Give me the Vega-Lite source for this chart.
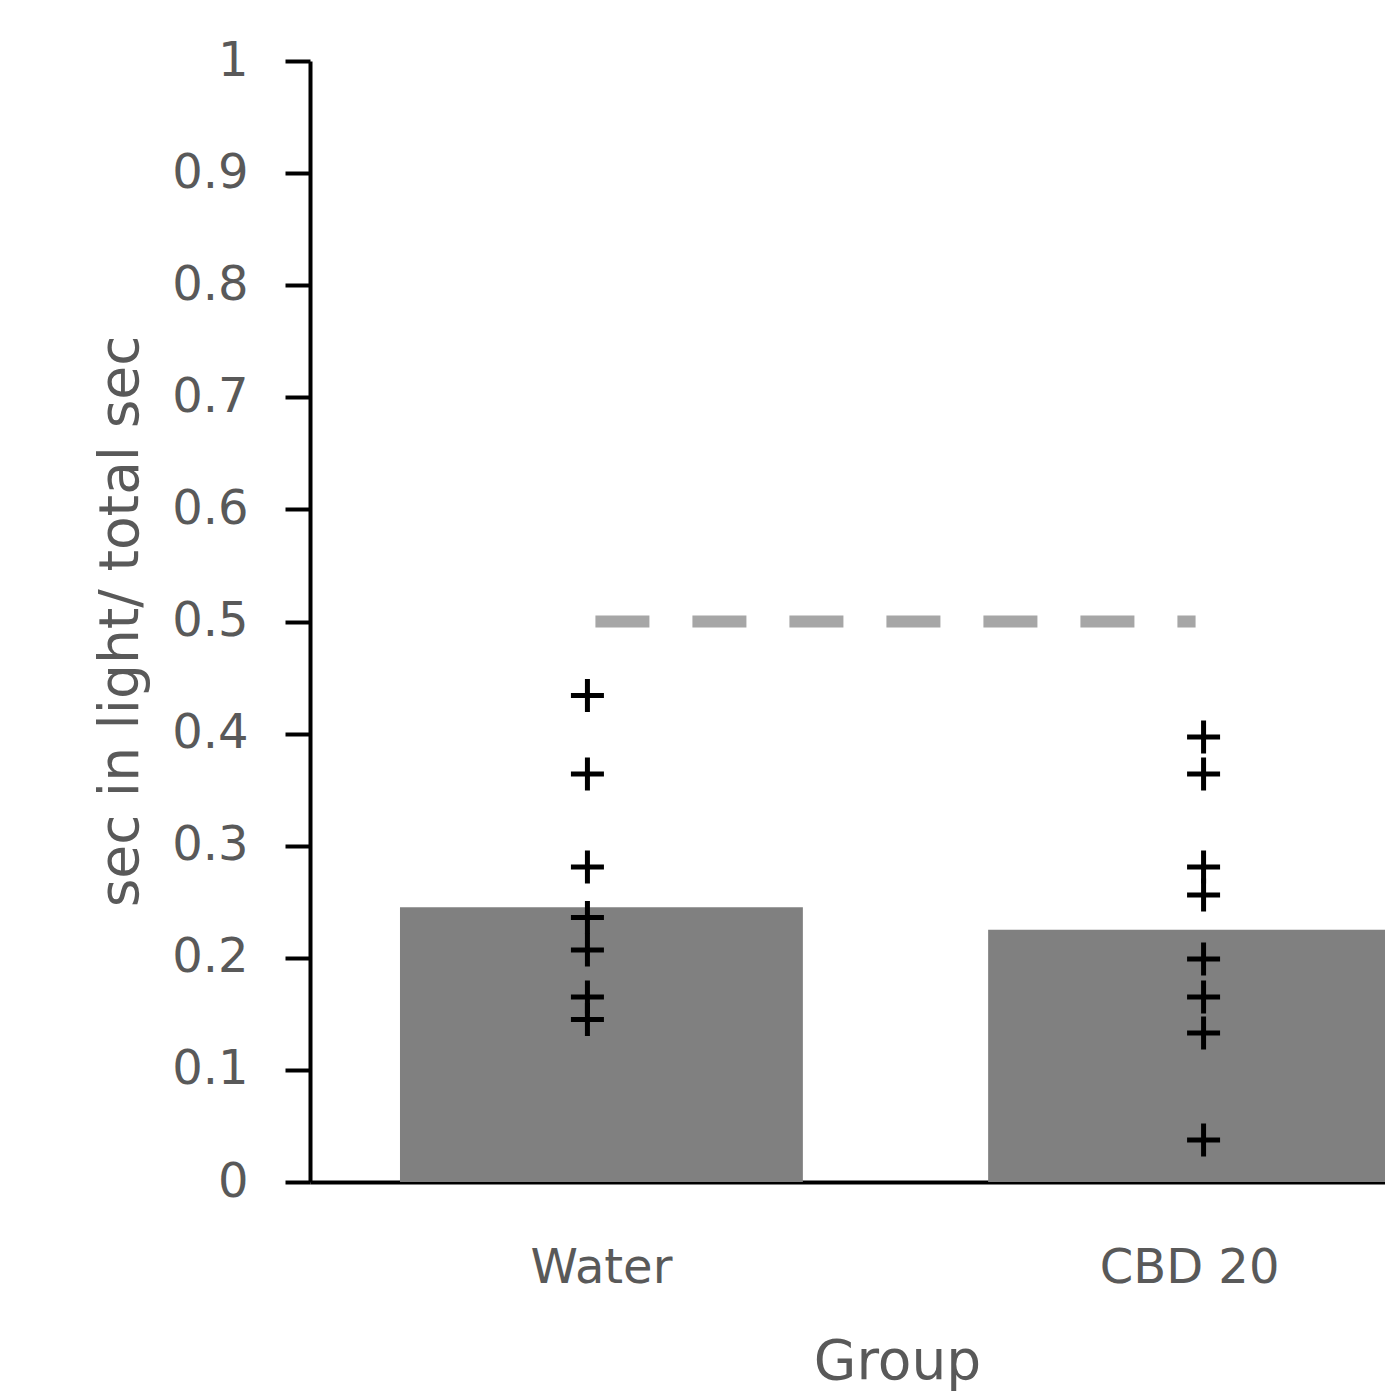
{
  "$schema": "https://vega.github.io/schema/vega-lite/v6.json",
  "autosize": "none",
  "width": 1075,
  "height": 1121,
  "padding": {"left": 310, "top": 61, "right": 0, "bottom": 217},
  "background": "white",
  "config": {"view": {"stroke": null}, "axis": {"grid": false}},
  "datasets": {
    "means": [
      {"group": "Water", "ratio": 0.245},
      {"group": "CBD 20", "ratio": 0.225}
    ],
    "points": [
      {"group": "Water", "ratio": 0.434},
      {"group": "Water", "ratio": 0.364},
      {"group": "Water", "ratio": 0.281},
      {"group": "Water", "ratio": 0.236},
      {"group": "Water", "ratio": 0.207},
      {"group": "Water", "ratio": 0.165},
      {"group": "Water", "ratio": 0.145},
      {"group": "CBD 20", "ratio": 0.397},
      {"group": "CBD 20", "ratio": 0.364},
      {"group": "CBD 20", "ratio": 0.281},
      {"group": "CBD 20", "ratio": 0.256},
      {"group": "CBD 20", "ratio": 0.199},
      {"group": "CBD 20", "ratio": 0.165},
      {"group": "CBD 20", "ratio": 0.133},
      {"group": "CBD 20", "ratio": 0.0375}
    ],
    "chance": [
      {"from": "Water", "to": "CBD 20", "ratio": 0.5}
    ]
  },
  "encoding": {
    "x": {
      "field": "group",
      "type": "nominal",
      "sort": ["Water", "CBD 20"],
      "scale": {"domain": ["Water", "CBD 20"], "range": [0, 1171], "paddingInner": 0.315, "paddingOuter": 0.153},
      "axis": {
        "title": "Group",
        "titleFont": "DejaVu Sans",
        "titleFontSize": 55,
        "titleFontWeight": "normal",
        "titleColor": "#595959",
        "titleX": 587,
        "titleY": 196,
        "titleBaseline": "alphabetic",
        "titleAlign": "center",
        "labelFont": "DejaVu Sans",
        "labelFontSize": 48,
        "labelColor": "#595959",
        "labelAngle": 0,
        "labelBaseline": "alphabetic",
        "labelPadding": 100,
        "ticks": false,
        "tickSize": 0,
        "domainColor": "#000000",
        "domainWidth": 4
      }
    },
    "y": {
      "field": "ratio",
      "type": "quantitative",
      "scale": {"domain": [0, 1], "nice": false, "zero": true},
      "axis": {
        "title": "sec in light/ total sec",
        "titleFont": "DejaVu Sans",
        "titleFontSize": 55,
        "titleFontWeight": "normal",
        "titleColor": "#595959",
        "titleAngle": -90,
        "titleX": -173,
        "titleY": 560,
        "titleAlign": "center",
        "titleBaseline": "alphabetic",
        "values": [0, 0.1, 0.2, 0.3, 0.4, 0.5, 0.6, 0.7, 0.8, 0.9, 1],
        "format": ".1~f",
        "labelFont": "DejaVu Sans",
        "labelFontSize": 48,
        "labelColor": "#595959",
        "labelPadding": 37,
        "tickSize": 25,
        "tickWidth": 4,
        "tickColor": "#000000",
        "domainColor": "#000000",
        "domainWidth": 4
      }
    }
  },
  "layer": [
    {
      "data": {"name": "means"},
      "mark": {"type": "bar", "color": "#808080"}
    },
    {
      "data": {"name": "chance"},
      "mark": {"type": "rule", "color": "#a6a6a6", "strokeWidth": 12, "strokeDash": [42, 55], "strokeCap": "square"},
      "encoding": {
        "x": {"field": "from", "type": "nominal"},
        "x2": {"field": "to"},
        "y": {"field": "ratio", "type": "quantitative"}
      }
    },
    {
      "data": {"name": "points"},
      "transform": [{"filter": "datum.group === 'Water'"}],
      "mark": {"type": "point", "shape": "M-1,0H1M0,-1V1", "filled": false, "stroke": "#000000", "strokeWidth": 5, "size": 1089, "opacity": 1, "xOffset": -14}
    },
    {
      "data": {"name": "points"},
      "transform": [{"filter": "datum.group === 'CBD 20'"}],
      "mark": {"type": "point", "shape": "M-1,0H1M0,-1V1", "filled": false, "stroke": "#000000", "strokeWidth": 5, "size": 1089, "opacity": 1, "xOffset": 14}
    }
  ]
}
